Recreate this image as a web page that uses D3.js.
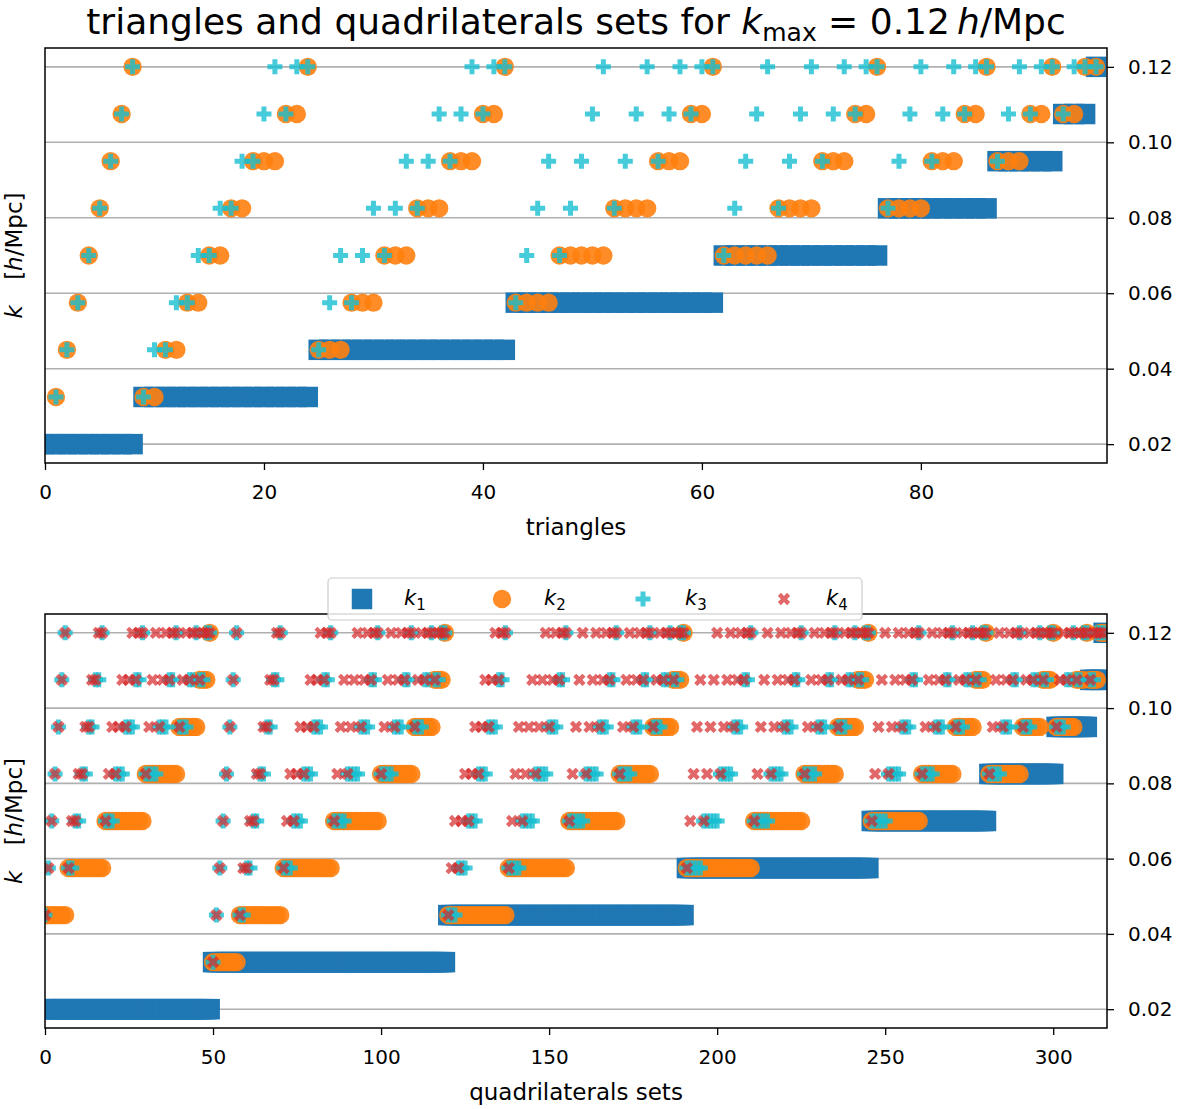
<!DOCTYPE html>
<html>
<head>
<meta charset="utf-8">
<script src="https://cdn.jsdelivr.net/npm/d3@7"></script>
<style>
  body { margin: 0; background: #ffffff; }
  text { font-family: "DejaVu Sans", sans-serif; fill: #000; }
</style>
</head>
<body>
<div id="chart"></div>
<script>
// ---------------- DATA ----------------
// k bins (h/Mpc); series below hold the bin number (1..9) of each side
const kBins = [0.02, 0.0325, 0.045, 0.0575, 0.07, 0.0825, 0.095, 0.1075, 0.12];
const yTicks = [0.02, 0.04, 0.06, 0.08, 0.10, 0.12];
const yTickLabels = ["0.02", "0.04", "0.06", "0.08", "0.10", "0.12"];
const triXTicks = [0, 20, 40, 60, 80];
const quadXTicks = [0, 50, 100, 150, 200, 250, 300];
const legendLabels = ["1", "2", "3", "4"];

// triangles (97); null = no marker visible in the picture
const triK1 = [
  1,1,1,1,1,1,1,1,1,
  2,2,2,2, 2,2,2,2, 2,2,2,2, 2,2,2,2,
  3,3,3, 3,3,3, 3,3,3, 3,3,3, 3,3,3, 3,3, 3,
  4,4,4,4, 4,4,4,4,4, 4,4,4,4, 4,4,4, 4,4, 4,
  5,5,5,5,5, 5,5,5,5, 5,5,5, 5,5, 5,
  6,6,6,6, 6,6,6, 6,6, 6,
  7,7,7, 7,7, 7,
  8,8, 8,
  9
];
const triK2 = [
  null,2,3,4,5,6,7,8,9,
  2,2,3,3, 4,4,5,5, 6,6,7,7, 7,8,8,9,
  3,3,3, 4,4,4, 5,5,5, 6,6,6, 7,7,7, 8,8, 9,
  4,4,4,4, 5,5,5,5,5, 6,6,6,6, 7,7,7, 8,8, 9,
  5,5,5,5,5, 6,6,6,6, 7,7,7, 8,8, 9,
  6,6,6,6, 7,7,7, 8,8, 9,
  7,7,7, 8,8, 9,
  8,8, 9,
  9
];
const triK3 = [
  null,2,3,4,5,6,7,8,9,
  2,3,3,4, 4,5,5,6, 6,7,7,8, 9,8,9,9,
  3,4,5, 4,5,6, 5,6,7, 6,7,8, 7,8,9, 8,9, 9,
  4,5,6,7, 5,6,7,8,9, 6,7,8,9, 7,8,9, 8,9, 9,
  5,6,7,8,9, 6,7,8,9, 7,8,9, 8,9, 9,
  6,7,8,9, 7,8,9, 8,9, 9,
  7,8,9, 8,9, 9,
  8,9, 9,
  9
];

// quadrilaterals sets (316)
const quadK1 = [
  1, 1, 1, 1, 1, 1, 1,
  1,1, 1,1, 1,1, 1,1, 1,1, 1,
  1,1,1, 1,1,1, 1,1,1, 1,1, 1,
  1,1,1,1, 1,1,1, 1,1, 1,
  1,1,1, 1,1, 1,
  1,1, 1,
  1,
  2, 2, 2, 2, 2, 2, 2, 2,
  2,2, 2,2, 2,2, 2,2, 2,2, 2,2, 2,
  2,2,2, 2,2,2, 2,2,2, 2,2,2, 2,2, 2,
  2,2,2,2, 2,2,2,2, 2,2,2, 2,2, 2,
  2,2,2,2, 2,2,2, 2,2, 2,
  2,2,2, 2,2, 2,
  2,2, 2,
  2,
  3,3,3, 3,3,3, 3,3,3, 3,3,3, 3,3,3, 3,3, 3,
  3,3,3,3, 3,3,3,3, 3,3,3,3, 3,3,3, 3,3, 3,
  3,3,3,3,3, 3,3,3,3, 3,3,3, 3,3, 3,
  3,3,3,3, 3,3,3, 3,3, 3,
  3,3,3, 3,3, 3,
  3,3, 3,
  3,
  4,4,4,4,4, 4,4,4,4,4, 4,4,4,4, 4,4,4, 4,4, 4,
  4,4,4,4,4, 4,4,4,4, 4,4,4, 4,4, 4,
  4,4,4,4, 4,4,4, 4,4, 4,
  4,4,4, 4,4, 4,
  4,4, 4,
  4,
  5,5,5,5,5, 5,5,5,5, 5,5,5, 5,5, 5,
  5,5,5,5, 5,5,5, 5,5, 5,
  5,5,5, 5,5, 5,
  5,5, 5,
  5,
  6,6,6,6, 6,6,6, 6,6, 6,
  6,6,6, 6,6, 6,
  6,6, 6,
  6,
  7,7,7, 7,7, 7,
  7,7, 7,
  7,
  8,8, 8,
  8,
  9
];
const quadK2 = [
  3, 3, 3, 3, 3, 3, 3,
  4,4, 4,4, 4,4, 4,4, 4,4, 4,
  5,5,5, 5,5,5, 5,5,5, 5,5, 5,
  6,6,6,6, 6,6,6, 6,6, 6,
  7,7,7, 7,7, 7,
  8,8, 8,
  9,
  2, 2, 2, 2, 2, 2, 2, 2,
  3,3, 3,3, 3,3, 3,3, 3,3, 3,3, 3,
  4,4,4, 4,4,4, 4,4,4, 4,4,4, 4,4, 4,
  5,5,5,5, 5,5,5,5, 5,5,5, 5,5, 5,
  6,6,6,6, 6,6,6, 6,6, 6,
  7,7,7, 7,7, 7,
  8,8, 8,
  9,
  3,3,3, 3,3,3, 3,3,3, 3,3,3, 3,3,3, 3,3, 3,
  4,4,4,4, 4,4,4,4, 4,4,4,4, 4,4,4, 4,4, 4,
  5,5,5,5,5, 5,5,5,5, 5,5,5, 5,5, 5,
  6,6,6,6, 6,6,6, 6,6, 6,
  7,7,7, 7,7, 7,
  8,8, 8,
  9,
  4,4,4,4,4, 4,4,4,4,4, 4,4,4,4, 4,4,4, 4,4, 4,
  5,5,5,5,5, 5,5,5,5, 5,5,5, 5,5, 5,
  6,6,6,6, 6,6,6, 6,6, 6,
  7,7,7, 7,7, 7,
  8,8, 8,
  9,
  5,5,5,5,5, 5,5,5,5, 5,5,5, 5,5, 5,
  6,6,6,6, 6,6,6, 6,6, 6,
  7,7,7, 7,7, 7,
  8,8, 8,
  9,
  6,6,6,6, 6,6,6, 6,6, 6,
  7,7,7, 7,7, 7,
  8,8, 8,
  9,
  7,7,7, 7,7, 7,
  8,8, 8,
  9,
  8,8, 8,
  9,
  9
];
const quadK3 = [
  3, 4, 5, 6, 7, 8, 9,
  4,4, 5,5, 6,6, 7,7, 8,8, 9,
  5,5,5, 6,6,6, 7,7,7, 8,8, 9,
  6,6,6,6, 7,7,7, 8,8, 9,
  7,7,7, 8,8, 9,
  8,8, 9,
  9,
  2, 3, 4, 5, 6, 7, 8, 9,
  3,3, 4,4, 5,5, 6,6, 7,7, 8,8, 9,
  4,4,4, 5,5,5, 6,6,6, 7,7,7, 8,8, 9,
  5,5,5,5, 6,6,6,6, 7,7,7, 8,8, 9,
  6,6,6,6, 7,7,7, 8,8, 9,
  7,7,7, 8,8, 9,
  8,8, 9,
  9,
  3,3,3, 4,4,4, 5,5,5, 6,6,6, 7,7,7, 8,8, 9,
  4,4,4,4, 5,5,5,5, 6,6,6,6, 7,7,7, 8,8, 9,
  5,5,5,5,5, 6,6,6,6, 7,7,7, 8,8, 9,
  6,6,6,6, 7,7,7, 8,8, 9,
  7,7,7, 8,8, 9,
  8,8, 9,
  9,
  4,4,4,4,4, 5,5,5,5,5, 6,6,6,6, 7,7,7, 8,8, 9,
  5,5,5,5,5, 6,6,6,6, 7,7,7, 8,8, 9,
  6,6,6,6, 7,7,7, 8,8, 9,
  7,7,7, 8,8, 9,
  8,8, 9,
  9,
  5,5,5,5,5, 6,6,6,6, 7,7,7, 8,8, 9,
  6,6,6,6, 7,7,7, 8,8, 9,
  7,7,7, 8,8, 9,
  8,8, 9,
  9,
  6,6,6,6, 7,7,7, 8,8, 9,
  7,7,7, 8,8, 9,
  8,8, 9,
  9,
  7,7,7, 8,8, 9,
  8,8, 9,
  9,
  8,8, 9,
  9,
  9
];
const quadK4 = [
  3, 4, 5, 6, 7, 8, 9,
  4,5, 5,6, 6,7, 7,8, 8,9, 9,
  5,6,7, 6,7,8, 7,8,9, 8,9, 9,
  6,7,8,9, 7,8,9, 8,9, 9,
  7,8,9, 8,9, 9,
  8,9, 9,
  9,
  2, 3, 4, 5, 6, 7, 8, 9,
  3,4, 4,5, 5,6, 6,7, 7,8, 8,9, 9,
  4,5,6, 5,6,7, 6,7,8, 7,8,9, 8,9, 9,
  5,6,7,8, 6,7,8,9, 7,8,9, 8,9, 9,
  6,7,8,9, 7,8,9, 8,9, 9,
  7,8,9, 8,9, 9,
  8,9, 9,
  9,
  3,4,5, 4,5,6, 5,6,7, 6,7,8, 7,8,9, 8,9, 9,
  4,5,6,7, 5,6,7,8, 6,7,8,9, 7,8,9, 8,9, 9,
  5,6,7,8,9, 6,7,8,9, 7,8,9, 8,9, 9,
  6,7,8,9, 7,8,9, 8,9, 9,
  7,8,9, 8,9, 9,
  8,9, 9,
  9,
  4,5,6,7,8, 5,6,7,8,9, 6,7,8,9, 7,8,9, 8,9, 9,
  5,6,7,8,9, 6,7,8,9, 7,8,9, 8,9, 9,
  6,7,8,9, 7,8,9, 8,9, 9,
  7,8,9, 8,9, 9,
  8,9, 9,
  9,
  5,6,7,8,9, 6,7,8,9, 7,8,9, 8,9, 9,
  6,7,8,9, 7,8,9, 8,9, 9,
  7,8,9, 8,9, 9,
  8,9, 9,
  9,
  6,7,8,9, 7,8,9, 8,9, 9,
  7,8,9, 8,9, 9,
  8,9, 9,
  9,
  7,8,9, 8,9, 9,
  8,9, 9,
  9,
  8,9, 9,
  9,
  9
];

// ---------------- DRAWING ----------------
const W = 1195, H = 1109;
const svg = d3.select("#chart").append("svg")
  .attr("width", W).attr("height", H)
  .attr("xmlns", "http://www.w3.org/2000/svg");

const LEFT = 45, RIGHT = 1107;
const TICK_FS = 20, LABEL_FS = 23;

const styles = [
  { type: d3.symbolSquare, size: 420, color: "#1f77b4", opacity: 1.0, rot: 0 },
  { type: d3.symbolCircle, size: 265, color: "#ff7f0e", opacity: 0.9, rot: 0 },
  { type: d3.symbolCross,  size: 125, color: "#17becf", opacity: 0.8, rot: 0 },
  { type: d3.symbolCross,  size: 95,  color: "#d62728", opacity: 0.7, rot: 45 }
];

const panels = [
  { id: "tri", xMax: 97, top: 48, bottom: 463, xTicks: triXTicks,
    xLabel: "triangles", xLabelY: 535, series: [triK1, triK2, triK3] },
  { id: "quad", xMax: 316, top: 614, bottom: 1028, xTicks: quadXTicks,
    xLabel: "quadrilaterals sets", xLabelY: 1100, series: [quadK1, quadK2, quadK3, quadK4] }
];

function ylabel(g, x, y) {
  const t = g.append("text")
    .attr("transform", `translate(${x},${y}) rotate(-90)`)
    .attr("text-anchor", "middle")
    .attr("font-size", LABEL_FS);
  t.append("tspan").attr("font-style", "italic").text("k");
  t.append("tspan").attr("dx", LABEL_FS * 1.1).text("[");
  t.append("tspan").attr("font-style", "italic").text("h");
  t.append("tspan").text("/Mpc]");
}

panels.forEach(p => {
  const x = d3.scaleLinear().domain([0, p.xMax]).range([LEFT, RIGHT]);
  const y = d3.scaleLinear().domain([0.015, 0.125]).range([p.bottom, p.top]);
  const g = svg.append("g");

  svg.append("clipPath").attr("id", "clip-" + p.id)
    .append("rect").attr("x", LEFT).attr("y", p.top)
    .attr("width", RIGHT - LEFT).attr("height", p.bottom - p.top);

  // grid
  g.append("g").selectAll("line").data(yTicks).join("line")
    .attr("x1", LEFT).attr("x2", RIGHT)
    .attr("y1", d => y(d)).attr("y2", d => y(d))
    .attr("stroke", "#b0b0b0").attr("stroke-width", 1.6);

  // markers
  const mg = g.append("g").attr("clip-path", `url(#clip-${p.id})`);
  p.series.forEach((arr, si) => {
    const st = styles[si];
    const sym = d3.symbol().type(st.type).size(st.size);
    mg.append("g").selectAll("path")
      .data(arr.map((b, i) => ({ i, b })).filter(d => d.b != null)
               .map(d => ({ i: d.i, v: kBins[d.b - 1] })))
      .join("path")
      .attr("d", sym)
      .attr("transform", d => `translate(${x(d.i)},${y(d.v)}) rotate(${st.rot})`)
      .attr("fill", st.color)
      .attr("fill-opacity", st.opacity);
  });

  // spines
  g.append("rect").attr("x", LEFT).attr("y", p.top)
    .attr("width", RIGHT - LEFT).attr("height", p.bottom - p.top)
    .attr("fill", "none").attr("stroke", "#000").attr("stroke-width", 1.5);

  // right y axis
  const yAxis = d3.axisRight(y).tickValues(yTicks)
    .tickFormat((d, i) => yTickLabels[i]).tickSize(7).tickPadding(14);
  const ya = g.append("g").attr("transform", `translate(${RIGHT},0)`).call(yAxis);
  ya.select(".domain").remove();
  ya.selectAll("line").attr("stroke", "#000").attr("stroke-width", 1.3);
  ya.selectAll("text").attr("font-size", TICK_FS)
    .attr("font-family", "DejaVu Sans").attr("fill", "#000");

  // bottom x axis
  const xAxis = d3.axisBottom(x).tickValues(p.xTicks)
    .tickFormat(d3.format("d")).tickSize(7).tickPadding(15);
  const xa = g.append("g").attr("transform", `translate(0,${p.bottom})`).call(xAxis);
  xa.select(".domain").remove();
  xa.selectAll("line").attr("stroke", "#000").attr("stroke-width", 1.3);
  xa.selectAll("text").attr("font-size", TICK_FS)
    .attr("font-family", "DejaVu Sans").attr("fill", "#000");

  // x label
  g.append("text").attr("x", (LEFT + RIGHT) / 2).attr("y", p.xLabelY)
    .attr("text-anchor", "middle").attr("font-size", LABEL_FS).text(p.xLabel);

  // y label
  ylabel(g, 22, (p.top + p.bottom) / 2);
});

// title
const title = svg.append("text").attr("x", (LEFT + RIGHT) / 2).attr("y", 34)
  .attr("text-anchor", "middle").attr("font-size", 36);
title.append("tspan").text("triangles and quadrilaterals sets for ");
title.append("tspan").attr("font-style", "italic").text("k");
title.append("tspan").attr("font-size", 25).attr("dy", 7).text("max");
title.append("tspan").attr("dy", -7).text(" = 0.12\u2009");
title.append("tspan").attr("font-style", "italic").text("h");
title.append("tspan").text("/Mpc");

// legend
const lg = svg.append("g");
lg.append("rect").attr("x", 328).attr("y", 578).attr("width", 534).attr("height", 42)
  .attr("rx", 4).attr("fill", "#fff").attr("fill-opacity", 0.85)
  .attr("stroke", "#cccccc").attr("stroke-width", 1.2);
const legendX = [362, 502, 643, 784];
legendLabels.forEach((lab, i) => {
  const st = styles[i];
  lg.append("path")
    .attr("d", d3.symbol().type(st.type).size(st.size))
    .attr("transform", `translate(${legendX[i]},599) rotate(${st.rot})`)
    .attr("fill", st.color).attr("fill-opacity", st.opacity);
  const t = lg.append("text").attr("x", legendX[i] + 42).attr("y", 605)
    .attr("font-size", 21);
  t.append("tspan").attr("font-style", "italic").text("k");
  t.append("tspan").attr("font-size", 15).attr("dy", 5).text(lab);
});
</script>
</body>
</html>
